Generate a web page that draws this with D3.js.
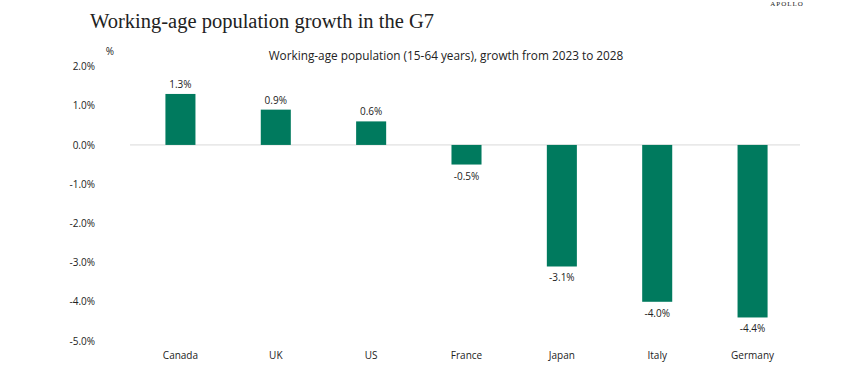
<!DOCTYPE html>
<html>
<head>
<meta charset="utf-8">
<script src="https://cdn.jsdelivr.net/npm/d3@7"></script>
<style>
  body { margin: 0; background: #fff; }
  svg text { fill: #222; }
</style>
</head>
<body>
<svg id="chart" width="861" height="374"></svg>
<script>
const countries = ["Canada", "UK", "US", "France", "Japan", "Italy", "Germany"];
const growth = [1.3, 0.9, 0.6, -0.5, -3.1, -4.0, -4.4];
const yTicks = [2, 1, 0, -1, -2, -3, -4, -5];

const svg = d3.select("#chart");

const fmt = d => d3.format(".1f")(d).replace("\u2212", "-") + "%";

const x = d3.scaleBand().domain(countries).range([133, 800]).paddingInner(0.685).paddingOuter(0.34);
const y = d3.scaleLinear().domain([-5, 2]).range([341, 66.5]);

// title
svg.append("text")
  .attr("x", 90).attr("y", 28)
  .style("font-family", "'Liberation Serif', 'DejaVu Serif', serif")
  .style("font-size", "20.5px")
  .text("Working-age population growth in the G7");

svg.append("text")
  .attr("x", 787).attr("y", 6)
  .attr("text-anchor", "middle")
  .style("font-family", "'Liberation Serif', serif")
  .style("font-size", "7px")
  .style("letter-spacing", "1px")
  .text("APOLLO");

svg.append("text")
  .attr("x", 446).attr("y", 60)
  .attr("text-anchor", "middle")
  .style("font-family", "'Open Sans', 'Noto Sans', sans-serif")
  .style("font-size", "11.8px")
  .text("Working-age population (15-64 years), growth from 2023 to 2028");

svg.append("text")
  .attr("x", 110).attr("y", 55)
  .attr("text-anchor", "middle")
  .style("font-family", "'Open Sans', 'Noto Sans', sans-serif")
  .style("font-size", "10px")
  .text("%");

// y axis labels
const yAxis = d3.axisLeft(y).tickValues(yTicks).tickSize(0).tickPadding(0)
  .tickFormat(fmt);
const gy = svg.append("g").attr("transform", "translate(95,0)").call(yAxis);
gy.select(".domain").remove();
gy.selectAll("text")
  .style("font-family", "'Open Sans', 'Noto Sans', sans-serif")
  .style("font-size", "10px")
  .style("fill", "#222");

// zero line
svg.append("line")
  .attr("x1", 130).attr("x2", 800)
  .attr("y1", y(0)).attr("y2", y(0))
  .attr("stroke", "#d9d9d9").attr("stroke-width", 1);

// bars
svg.selectAll("rect.bar")
  .data(countries)
  .join("rect")
  .attr("class", "bar")
  .attr("x", d => x(d))
  .attr("width", x.bandwidth())
  .attr("y", (d, i) => y(Math.max(0, growth[i])))
  .attr("height", (d, i) => Math.abs(y(growth[i]) - y(0)))
  .attr("fill", "#007a5e");

// value labels
svg.selectAll("text.val")
  .data(countries)
  .join("text")
  .attr("class", "val")
  .attr("x", d => x(d) + x.bandwidth() / 2)
  .attr("y", (d, i) => growth[i] >= 0 ? y(growth[i]) - 6 : y(growth[i]) + 15)
  .attr("text-anchor", "middle")
  .style("font-family", "'Open Sans', 'Noto Sans', sans-serif")
  .style("font-size", "10px")
  .text((d, i) => fmt(growth[i]));

// category labels
const xAxis = d3.axisBottom(x).tickSize(0).tickPadding(0);
const gx = svg.append("g").attr("transform", "translate(0,352)").call(xAxis);
gx.select(".domain").remove();
gx.selectAll("text")
  .style("font-family", "'Open Sans', 'Noto Sans', sans-serif")
  .style("font-size", "10px")
  .style("fill", "#222");
</script>
</body>
</html>
